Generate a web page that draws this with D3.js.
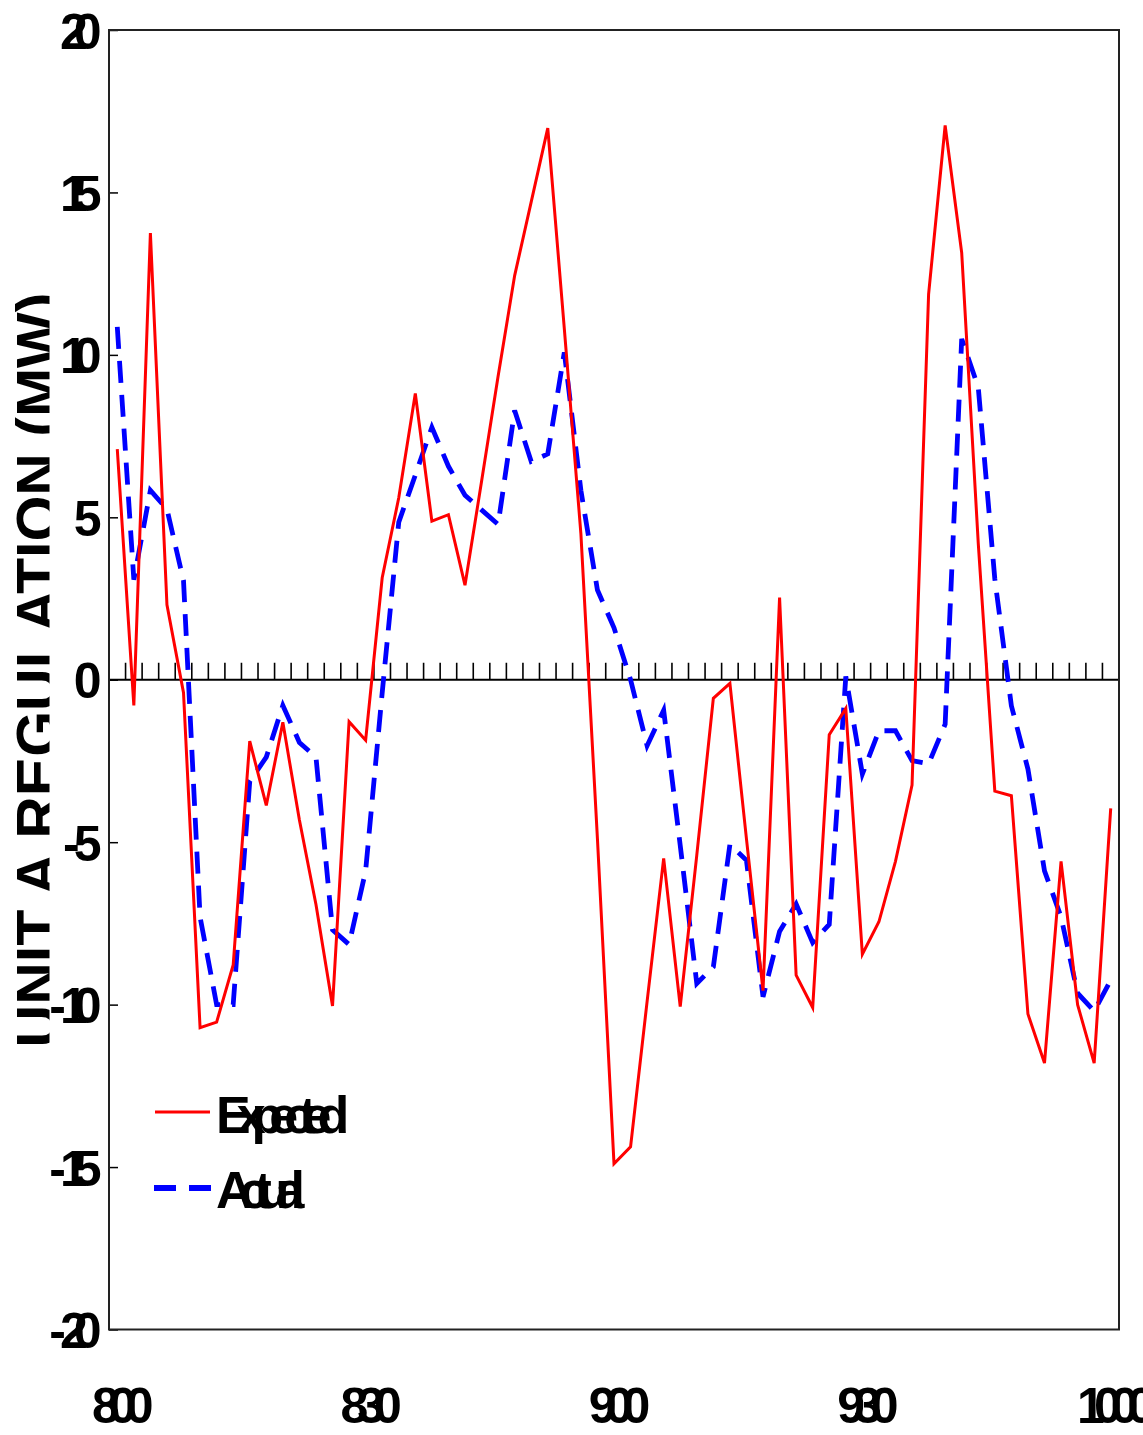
<!DOCTYPE html>
<html>
<head>
<meta charset="utf-8">
<script src="https://cdn.jsdelivr.net/npm/d3@7"></script>
<style>
  html, body { margin: 0; padding: 0; background: #fff; }
  svg { display: block; }
  text { font-family: "Liberation Sans", Arial, sans-serif; font-weight: bold; fill: #000; }
</style>
</head>
<body>
<svg id="chart" width="1143" height="1435"></svg>
<script>
// Two-minute samples from 8:00 to 10:00 (61 intervals)
const timeLabels = ["800", "830", "900", "930", "1000"];
const timeLabelIndex = [0, 15, 30, 45, 60];

const expected = [
  7.1, -0.79, 13.75, 2.31, -0.4, -10.71, -10.54, -8.78, -1.89, -3.87,
  -1.31, -4.32, -6.92, -10.04, -1.29, -1.86, 3.14, 5.6, 8.81, 4.88,
  5.08, 2.91, 6.1, 9.34, 12.44, 14.71, 16.98, 10.8, 4.5, -4.9,
  -14.9, -14.38, -9.9, -5.5, -10.06, -5.4, -0.57, -0.11, -4.9, -9.57,
  2.53, -9.09, -10.09, -1.69, -0.88, -8.45, -7.45, -5.59, -3.24, 11.86,
  17.06, 13.14, 4.2, -3.43, -3.57, -10.29, -11.8, -5.59, -10.0, -11.8,
  -3.96
];

const actual = [
  10.86, 3.08, 5.83, 5.25, 3.05, -7.3, -10.0, -10.0, -3.13, -2.38,
  -0.79, -1.93, -2.38, -7.7, -8.15, -5.88, -0.4, 4.85, 6.3, 7.77,
  6.57, 5.68, 5.23, 4.78, 8.29, 6.72, 6.95, 10.08, 5.83, 2.76,
  1.6, 0.0, -2.03, -0.94, -5.1, -9.35, -8.84, -5.07, -5.56, -9.76,
  -7.75, -6.9, -8.09, -7.53, 0.1, -2.9, -1.57, -1.57, -2.49, -2.59,
  -1.37, 10.49, 9.0, 3.1, -0.8, -2.75, -5.88, -7.3, -9.65, -10.2,
  -9.25
];

const yTickValues = [-20, -15, -10, -5, 0, 5, 10, 15, 20];
const seriesNames = ["Expected", "Actual"];
const yTitle = "UNIT A REGULATION (MW)";

const svg = d3.select("#chart");
const plotLeft = 109, plotRight = 1119, plotTop = 30, plotBottom = 1329.5;

const x = d3.scaleBand().domain(d3.range(expected.length)).range([plotLeft, plotRight]).paddingInner(0).paddingOuter(0);
const cx = i => x(i) + x.bandwidth() / 2;
const y = d3.scaleLinear().domain([-20, 20]).range([plotBottom, plotTop]);

// Y axis title, clipped along its baseline side
svg.append("defs").append("clipPath").attr("id", "titleClip")
  .append("rect").attr("x", 0).attr("y", 0).attr("width", 49.5).attr("height", 1435);
svg.append("g").attr("clip-path", "url(#titleClip)")
  .append("text")
  .attr("transform", "translate(58,670) rotate(-90)")
  .attr("text-anchor", "middle")
  .style("font-size", "59px")
  .text(yTitle);

// Y axis with inward ticks
const yAxis = d3.axisLeft(y).tickValues(yTickValues).tickSize(-9).tickPadding(21.5).tickFormat(d => String(d));
const gy = svg.append("g").attr("transform", `translate(${plotLeft},0)`).call(yAxis);
gy.select(".domain").remove();
gy.attr("font-family", null).attr("font-size", null);
gy.selectAll(".tick line").attr("stroke", "#000").attr("stroke-width", 1.5);
gy.selectAll(".tick text")
  .attr("dy", null)
  .attr("y", 18)
  .attr("fill", "#000")
  .style("font-size", "50px").style("letter-spacing", "-14px")
  .each(function (d) {
    // the minus sign keeps a little more room than the digits
    const s = String(d);
    if (s[0] !== "-") return;
    const t = d3.select(this).text(null);
    t.append("tspan").style("letter-spacing", "-6px").text("-");
    t.append("tspan").text(s.slice(1));
  });

// X labels at the half-hour samples
svg.append("g").selectAll("text")
  .data(timeLabelIndex)
  .join("text")
  .attr("x", i => cx(i))
  .attr("y", 1423)
  .attr("text-anchor", "middle")
  .style("font-size", "50px")
  .style("letter-spacing", "-11px")
  .text((d, k) => timeLabels[k]);

// Zero line with interval ticks
const y0 = y(0);
svg.append("line").attr("x1", plotLeft).attr("x2", plotRight).attr("y1", y0).attr("y2", y0)
  .attr("stroke", "#000").attr("stroke-width", 2);
svg.append("g").selectAll("line")
  .data(d3.range(1, expected.length))
  .join("line")
  .attr("x1", i => x(i)).attr("x2", i => x(i))
  .attr("y1", y0).attr("y2", y0 - 17)
  .attr("stroke", "#000").attr("stroke-width", 1.6);

// Series
const line = d3.line().x((d, i) => cx(i)).y(d => y(d));
svg.append("path").datum(actual)
  .attr("d", line).attr("fill", "none")
  .attr("stroke", "#0000ff").attr("stroke-width", 4.8)
  .attr("stroke-dasharray", "22,12");
svg.append("path").datum(expected)
  .attr("d", line).attr("fill", "none")
  .attr("stroke", "#ff0000").attr("stroke-width", 3);

// Plot frame
svg.append("rect").attr("x", plotLeft).attr("y", plotTop)
  .attr("width", plotRight - plotLeft).attr("height", plotBottom - plotTop)
  .attr("fill", "none").attr("stroke", "#222").attr("stroke-width", 2);

// Legend
const legend = svg.append("g");
legend.append("line").attr("x1", 155).attr("x2", 210).attr("y1", 1112).attr("y2", 1112)
  .attr("stroke", "#ff0000").attr("stroke-width", 3);
legend.append("line").attr("x1", 154).attr("x2", 211).attr("y1", 1188).attr("y2", 1188)
  .attr("stroke", "#0000ff").attr("stroke-width", 6).attr("stroke-dasharray", "22,13");
legend.selectAll("text")
  .data(seriesNames)
  .join("text")
  .attr("x", 216)
  .attr("y", (d, i) => i === 0 ? 1133 : 1208)
  .style("font-size", "52px")
  .style("letter-spacing", "-14px")
  .text(d => d);
</script>
</body>
</html>
